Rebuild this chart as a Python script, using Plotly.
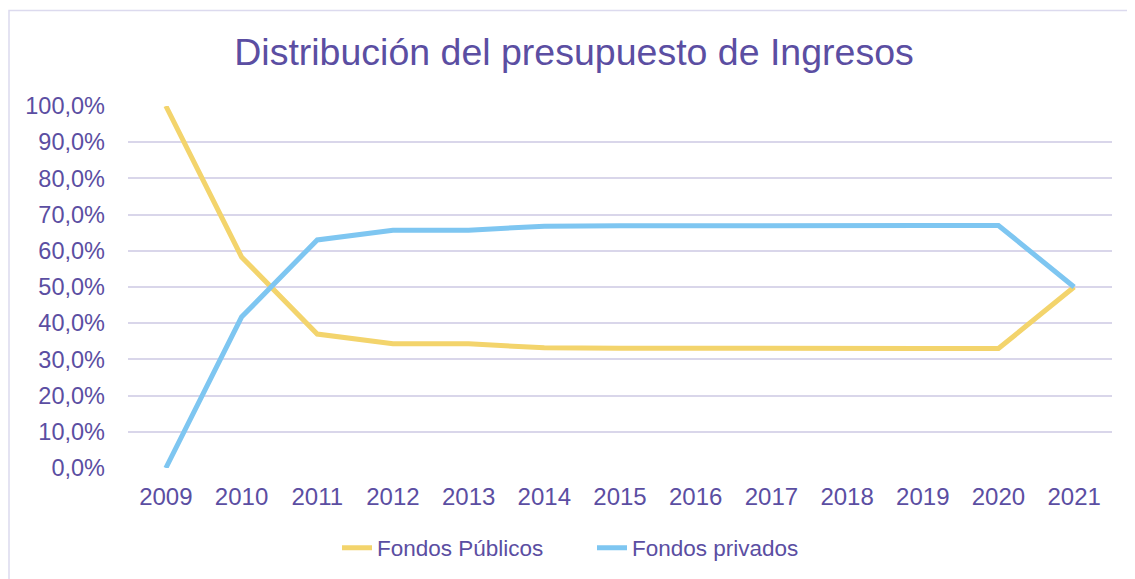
import plotly.graph_objects as go

years = ["2009", "2010", "2011", "2012", "2013", "2014", "2015", "2016",
         "2017", "2018", "2019", "2020", "2021"]
fondos_publicos = [100.0, 58.3, 37.0, 34.3, 34.3, 33.2, 33.1, 33.0, 33.0, 33.0, 33.0, 33.0, 50.0]
fondos_privados = [0.0, 41.7, 63.0, 65.7, 65.7, 66.8, 66.9, 67.0, 67.0, 67.0, 67.0, 67.0, 50.0]
y_ticks = [0, 10, 20, 30, 40, 50, 60, 70, 80, 90, 100]
y_tick_labels = ["0,0%", "10,0%", "20,0%", "30,0%", "40,0%", "50,0%",
                 "60,0%", "70,0%", "80,0%", "90,0%", "100,0%"]

TEXT = "#5B4EA2"
GRID = "#D9D6EA"
FONT = "Liberation Sans, Arial, sans-serif"

# page body has an 8px margin, so the figure is offset by (8, 8)
OFF = 8
W, H = 1135 - OFF, 579 - OFF
ml, mr, mt, mb = 128 - OFF, 23, 106 - OFF, 111

fig = go.Figure()
fig.add_trace(go.Scatter(x=years, y=fondos_publicos, name="Fondos Públicos",
                         mode="lines", line=dict(color="#F3D46C", width=5)))
fig.add_trace(go.Scatter(x=years, y=fondos_privados, name="Fondos privados",
                         mode="lines", line=dict(color="#7EC6F1", width=5)))

pw = W - ml - mr
ph = H - mt - mb
fig.add_shape(type="rect", xref="paper", yref="paper",
              x0=(1 - ml) / pw, x1=(W + 10 - ml) / pw,
              y0=-(mb + 10) / ph, y1=1 + (mt - 2.5) / ph,
              line=dict(color="#DCDAEE", width=1.5), fillcolor="rgba(0,0,0,0)",
              layer="below")

fig.update_layout(
    width=W, height=H,
    margin=dict(l=ml, r=mr, t=mt, b=mb),
    paper_bgcolor="white", plot_bgcolor="white",
    font=dict(family=FONT, color=TEXT, size=23),
    title=dict(text="Distribución del presupuesto de Ingresos",
               font=dict(family=FONT, size=37.5, color=TEXT),
               xref="container", yref="container",
               x=(574 - OFF) / W, xanchor="center", y=1 - (52 - OFF) / H, yanchor="middle"),
    xaxis=dict(type="category", showgrid=False, zeroline=False, showline=False,
               ticks="", tickfont=dict(size=24, color=TEXT),
               range=[-0.5, len(years) - 0.5], ticklabelstandoff=12),
    yaxis=dict(range=[0, 100], tickvals=y_ticks, ticktext=y_tick_labels,
               showgrid=True, gridcolor=GRID, gridwidth=2, zeroline=False,
               showline=False, ticks="", tickfont=dict(size=23.5, color=TEXT),
               ticklabelstandoff=22),
    legend=dict(orientation="h", xref="container", yref="container",
                x=(592 - OFF) / W, xanchor="center", y=1 - (548 - OFF) / H, yanchor="middle",
                font=dict(size=22.5, color=TEXT), itemwidth=30,
                entrywidth=210, entrywidthmode="pixels"),
    showlegend=True,
)

fig.write_html("out.html")
